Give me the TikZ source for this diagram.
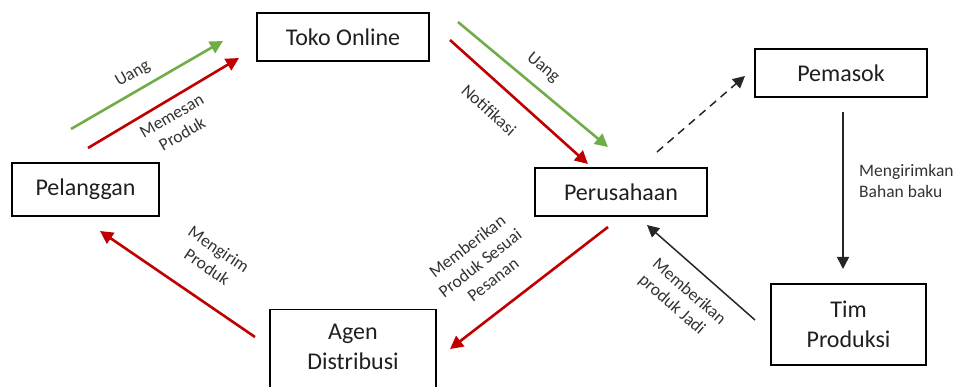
\documentclass[tikz,border=0pt]{standalone}
\usepackage{fontspec}
\setmainfont{Carlito}
\usetikzlibrary{arrows.meta}

\definecolor{flowgreen}{HTML}{70AD47}
\definecolor{flowred}{HTML}{C00000}
\definecolor{boxtext}{HTML}{1F1F1F}
\definecolor{labeltext}{HTML}{333333}

\tikzset{
  entity/.style={draw=black, line width=1.3pt, inner sep=0pt, text=boxtext,
    font=\fontsize{24}{30}\selectfont, align=center},
  entitytext/.style={inner sep=0pt, text=boxtext,
    font=\fontsize{24}{30}\selectfont, align=center},
  flowlabel/.style={inner sep=0pt, text=labeltext,
    font=\fontsize{17.5}{21}\selectfont, align=center},
  greenflow/.style={draw=flowgreen, line width=2.6pt,
    -{Triangle[length=13pt,width=13pt]}},
  redflow/.style={draw=flowred, line width=2.6pt,
    -{Triangle[length=13pt,width=13pt]}},
  blackflow/.style={draw=black!85, line width=1.5pt,
    -{Triangle[length=12pt,width=12pt]}},
}

\begin{document}
\begin{tikzpicture}[x=1pt, y=-1pt]
  \useasboundingbox (0,0) rectangle (958,387);

  % parties in the order flow
  \node[entity, minimum width=147pt, minimum height=53pt] (pelanggan) at (85.5,189.5) {Pelanggan};
  \node[entity, minimum width=172pt, minimum height=48pt] (toko) at (343,37) {Toko Online};
  \node[entity, minimum width=172pt, minimum height=48pt] (pemasok) at (841,73) {Pemasok};
  \node[entity, minimum width=172pt, minimum height=48pt] (perusahaan) at (621,192) {Perusahaan};
  \node[entity, minimum width=155pt, minimum height=81pt] (tim) at (848.5,324.5) {Tim\\Produksi};
  \node[entity, minimum width=166pt, minimum height=110pt, anchor=north] (agen) at (353,309) {};
  \node[entitytext] (agentext) at (353,347) {Agen\\Distribusi};

  % arrow end points
  \coordinate (uangA) at (71,129);    \coordinate (uangB) at (223,41);
  \coordinate (pesanA) at (88,148);   \coordinate (pesanB) at (239,58);
  \coordinate (uangC) at (458,22);    \coordinate (uangD) at (608,147);
  \coordinate (notifA) at (450,40);   \coordinate (notifB) at (588,164);
  \coordinate (pasokA) at (657,152);  \coordinate (pasokB) at (745,76);
  \coordinate (bahanA) at (843,112);  \coordinate (bahanB) at (843,269);
  \coordinate (jadiA) at (755,320);   \coordinate (jadiB) at (647,225);
  \coordinate (sesuaiA) at (608,227); \coordinate (sesuaiB) at (450,349);
  \coordinate (kirimA) at (255,337);  \coordinate (kirimB) at (100,231);

  % flows
  \draw[greenflow] (uangA) -- (uangB);
  \draw[redflow] (pesanA) -- (pesanB);
  \draw[greenflow] (uangC) -- (uangD);
  \draw[redflow] (notifA) -- (notifB);
  \draw[blackflow, dash pattern=on 8pt off 6pt] (pasokA) -- (pasokB);
  \draw[blackflow] (bahanA) -- (bahanB);
  \draw[blackflow] (jadiA) -- (jadiB);
  \draw[redflow] (sesuaiA) -- (sesuaiB);
  \draw[redflow] (kirimA) -- (kirimB);

  % flow labels
  \node[flowlabel, rotate=30] (lblUang1) at (133,74) {Uang};
  \node[flowlabel, rotate=30] (lblPesan) at (177,125) {Memesan\\Produk};
  \node[flowlabel, rotate=-40] (lblUang2) at (543,68) {Uang};
  \node[flowlabel, rotate=-42] (lblNotif) at (489,110) {Notifikasi};
  \node[flowlabel, align=left, anchor=west] (lblBahan) at (859,180.5) {Mengirimkan\\Bahan baku};
  \node[flowlabel, align=left, rotate=-41] (lblJadi) at (682,300) {Memberikan\\produk Jadi};
  \node[flowlabel, rotate=37.7] (lblSesuai) at (480,263) {Memberikan\\Produk Sesuai\\Pesanan};
  \node[flowlabel, rotate=-34] (lblKirim) at (213,258) {Mengirim\\Produk};
\end{tikzpicture}
\end{document}
